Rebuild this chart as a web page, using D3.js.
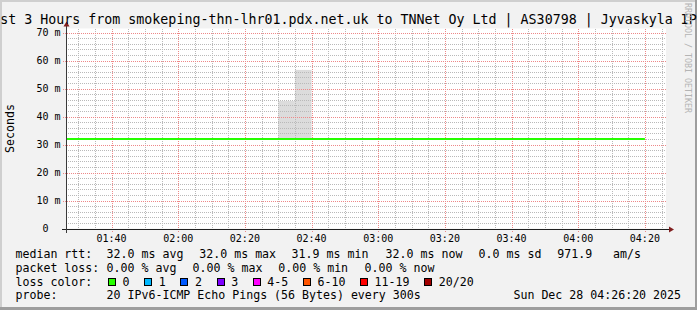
<!DOCTYPE html>
<html>
<head>
<meta charset="utf-8">
<script src="https://cdn.jsdelivr.net/npm/d3@7"></script>
<style>
  html, body { margin: 0; padding: 0; background: #f2f2f2; }
  svg { display: block; }
  text { font-family: "DejaVu Sans Mono", monospace; fill: #000; }
</style>
</head>
<body>
<div id="chart"></div>
<script>
// ---- data ----
const title = "Last 3 Hours from smokeping-thn-lhr01.pdx.net.uk to TNNet Oy Ltd | AS30798 | Jyvaskyla IPv6";
const day = "2025-12-28";
const rangeStart = "01:26:20";
const rangeEnd = "04:26:20";

// median rtt (ms), one value per 5 minute step, time = end of the step
const rttTimes = [
  "01:30", "01:35", "01:40", "01:45", "01:50", "01:55",
  "02:00", "02:05", "02:10", "02:15", "02:20", "02:25",
  "02:30", "02:35", "02:40", "02:45", "02:50", "02:55",
  "03:00", "03:05", "03:10", "03:15", "03:20", "03:25",
  "03:30", "03:35", "03:40", "03:45", "03:50", "03:55",
  "04:00", "04:05", "04:10", "04:15", "04:20"
];
const rttMedian = [
  32.0, 32.0, 32.0, 32.0, 32.0, 32.0,
  32.0, 32.0, 32.0, 32.0, 32.0, 32.0,
  32.0, 32.0, 32.0, 32.0, 32.0, 32.0,
  32.0, 32.0, 32.0, 32.0, 32.0, 32.0,
  32.0, 32.0, 32.0, 32.0, 32.0, 32.0,
  32.0, 32.0, 32.0, 32.0, 32.0
];

// smoke (spread of the pings) where it is visible
const smokeTimes = ["02:35", "02:40"];
const smokeLow = [32.0, 32.0];
const smokeHigh = [45.6, 56.7];

const yMax = 71.5;
const yMajor = [0, 10, 20, 30, 40, 50, 60, 70];

const rttStats = [32.0, 32.0, 31.9, 32.0, 0.0]; // avg, max, min, now, sd (ms)
const amPerS = 971.9;
const lossStats = [0.00, 0.00, 0.00, 0.00];      // avg, max, min, now (%)
const probeText = "20 IPv6-ICMP Echo Pings (56 Bytes) every 300s";
const stamp = "Sun Dec 28 04:26:20 2025";

const lossLabels = ["0", "1", "2", "3", "4-5", "6-10", "11-19", "20/20"];
const lossColors = ["#26ff00", "#00b8ff", "#0059ff", "#7e00ff", "#ff00ff", "#ff5500", "#ff0000", "#a10000"];

// ---- layout ----
const W = 697, H = 310;
const plot = { left: 66, right: 666, top: 28.5, bottom: 228.5 };
const parse = d3.timeParse("%Y-%m-%d %H:%M:%S");
const at = t => parse(`${day} ${t.length === 5 ? t + ":00" : t}`);
const step = 5; // minutes

const x = d3.scaleTime()
  .domain([at(rangeStart), at(rangeEnd)])
  .range([plot.left, plot.right]);
const y = d3.scaleLinear()
  .domain([0, yMax])
  .range([plot.bottom, plot.top]);

const svg = d3.select("#chart").append("svg")
  .attr("width", W)
  .attr("height", H);

// background + 3d frame
svg.append("rect").attr("width", W).attr("height", H).attr("fill", "#f2f2f2");
svg.append("rect").attr("x", 0).attr("y", 0).attr("width", W).attr("height", 2).attr("fill", "#cfcfcf");
svg.append("rect").attr("x", 0).attr("y", 0).attr("width", 2).attr("height", H).attr("fill", "#cfcfcf");
svg.append("rect").attr("x", W - 2).attr("y", 0).attr("width", 2).attr("height", H).attr("fill", "#9e9e9e");
svg.append("rect").attr("x", 0).attr("y", H - 3).attr("width", W).attr("height", 3).attr("fill", "#9e9e9e");

// canvas
svg.append("rect")
  .attr("x", plot.left).attr("y", plot.top)
  .attr("width", plot.right - plot.left).attr("height", plot.bottom - plot.top)
  .attr("fill", "#fff");

svg.append("clipPath").attr("id", "clip")
  .append("rect")
  .attr("x", plot.left).attr("y", plot.top)
  .attr("width", plot.right - plot.left).attr("height", plot.bottom - plot.top);

// smoke
svg.append("g").attr("clip-path", "url(#clip)")
  .selectAll("rect")
  .data(smokeTimes.map((t, i) => ({ end: at(t), lo: smokeLow[i], hi: smokeHigh[i] })))
  .join("rect")
  .attr("x", d => x(d3.timeMinute.offset(d.end, -step)))
  .attr("width", d => x(d.end) - x(d3.timeMinute.offset(d.end, -step)))
  .attr("y", d => y(d.hi))
  .attr("height", d => y(d.lo) - y(d.hi))
  .attr("fill", "#dcdcdc");

// grid
const px = v => Math.round(v) + 0.5;
const grid = svg.append("g").attr("shape-rendering", "crispEdges");
const minorCol = "#b9b9b9", majorCol = "#ee8888";

const minorY = d3.range(0, yMax, 2).filter(v => v % 10 !== 0);
grid.selectAll(".ym").data(minorY).join("line")
  .attr("x1", plot.left).attr("x2", plot.right)
  .attr("y1", d => px(y(d))).attr("y2", d => px(y(d)))
  .attr("stroke", minorCol).attr("stroke-dasharray", "1,1");

const minorX = d3.timeMinute.every(5).range(x.domain()[0], x.domain()[1])
  .filter(d => d.getMinutes() % 20 !== 0);
grid.selectAll(".xm").data(minorX).join("line")
  .attr("x1", d => px(x(d))).attr("x2", d => px(x(d)))
  .attr("y1", plot.top).attr("y2", plot.bottom)
  .attr("stroke", minorCol).attr("stroke-dasharray", "1,1");

grid.selectAll(".yM").data(yMajor.filter(v => v > 0)).join("line")
  .attr("x1", plot.left - 3).attr("x2", plot.right)
  .attr("y1", d => px(y(d))).attr("y2", d => px(y(d)))
  .attr("stroke", majorCol).attr("stroke-dasharray", "1,1");

const majorX = d3.timeMinute.every(20).range(x.domain()[0], x.domain()[1]);
grid.selectAll(".xM").data(majorX).join("line")
  .attr("x1", d => px(x(d))).attr("x2", d => px(x(d)))
  .attr("y1", plot.top).attr("y2", plot.bottom + 3)
  .attr("stroke", majorCol).attr("stroke-dasharray", "1,1");

// median rtt as a step line
const rtt = rttTimes.map((t, i) => ({ t: at(t), v: rttMedian[i] }));
const pts = [{ t: d3.timeMinute.offset(rtt[0].t, -step), v: rtt[0].v }, ...rtt];
svg.append("path")
  .attr("clip-path", "url(#clip)")
  .attr("d", d3.line().x(d => x(d.t)).y(d => y(d.v)).curve(d3.curveStepBefore)(pts))
  .attr("fill", "none")
  .attr("stroke", lossColors[0])
  .attr("stroke-width", 2);

// axes
svg.append("line")
  .attr("x1", plot.left - 4).attr("x2", plot.right + 4)
  .attr("y1", px(plot.bottom)).attr("y2", px(plot.bottom))
  .attr("stroke", "#1f1f1f").attr("shape-rendering", "crispEdges");
svg.append("line")
  .attr("x1", px(plot.left)).attr("x2", px(plot.left))
  .attr("y1", plot.bottom + 4).attr("y2", plot.top - 4)
  .attr("stroke", "#3a3a3a").attr("shape-rendering", "crispEdges");
svg.append("path")
  .attr("d", `M${px(plot.left) - 3},${plot.top - 2}L${px(plot.left)},${plot.top - 7}L${px(plot.left) + 3},${plot.top - 2}Z`)
  .attr("fill", "#801f1f");
svg.append("path")
  .attr("d", `M${plot.right + 3},${px(plot.bottom) - 3}L${plot.right + 8},${px(plot.bottom)}L${plot.right + 3},${px(plot.bottom) + 3}Z`)
  .attr("fill", "#801f1f");

// tick labels
svg.append("g").selectAll("text").data(yMajor).join("text")
  .attr("x", d => d === 0 ? 48.5 : 60.5)
  .attr("y", d => y(d) + 3.6)
  .attr("text-anchor", "end")
  .attr("font-size", 10)
  .text(d => d === 0 ? "0" : `${d} m`);

const fmt = d3.timeFormat("%H:%M");
svg.append("g").selectAll("text").data(majorX).join("text")
  .attr("x", d => x(d))
  .attr("y", 241.5)
  .attr("text-anchor", "middle")
  .attr("font-size", 10)
  .text(fmt);

// title, axis label, watermark
svg.append("text")
  .attr("x", W / 2).attr("y", 24)
  .attr("text-anchor", "middle")
  .attr("font-size", 13.3)
  .text(title);

svg.append("text")
  .attr("transform", `translate(14,${(plot.top + plot.bottom) / 2}) rotate(-90)`)
  .attr("text-anchor", "middle")
  .attr("font-size", 11.6)
  .text("Seconds");

svg.append("text")
  .attr("transform", "translate(685,3) rotate(90)")
  .attr("font-size", 8.3)
  .style("fill", "#b4b4b4")
  .text("RRDTOOL / TOBI OETIKER");

// legend
const f1 = v => v.toFixed(1), f2 = v => v.toFixed(2);
const legendRows = [
  { y: 258.3, items: [
    [15.5, "median rtt:"],
    [106.6, `${f1(rttStats[0])} ms avg`],
    [199.3, `${f1(rttStats[1])} ms max`],
    [291.6, `${f1(rttStats[2])} ms min`],
    [385.6, `${f1(rttStats[3])} ms now`],
    [478.6, `${f1(rttStats[4])} ms sd`],
    [557.3, `${f1(amPerS)}`],
    [613, "am/s"]
  ]},
  { y: 271.8, items: [
    [15.5, "packet loss:"],
    [106.6, `${f2(lossStats[0])} % avg`],
    [192.6, `${f2(lossStats[1])} % max`],
    [278.3, `${f2(lossStats[2])} % min`],
    [364.6, `${f2(lossStats[3])} % now`]
  ]},
  { y: 285.5, items: [[15.5, "loss color:"]] },
  { y: 299.2, items: [[15.5, "probe:"], [106.6, probeText]] }
];

const legend = svg.append("g").attr("font-size", 11.6);
legendRows.forEach(row => {
  legend.append("g").selectAll("text").data(row.items).join("text")
    .attr("x", d => d[0]).attr("y", row.y)
    .style("white-space", "pre")
    .text(d => d[1]);
});
legend.append("text")
  .attr("x", 681).attr("y", 299.2)
  .attr("text-anchor", "end")
  .text(stamp);

// loss colour swatches
let bx = 108;
lossLabels.forEach((lab, i) => {
  legend.append("rect")
    .attr("x", bx + 0.5).attr("y", 278.5)
    .attr("width", 7).attr("height", 7)
    .attr("fill", lossColors[i])
    .attr("stroke", "#000")
    .attr("shape-rendering", "crispEdges");
  const t = legend.append("text")
    .attr("x", bx + 14.6).attr("y", 285.5)
    .text(lab);
  bx = bx + 14.6 + t.node().getComputedTextLength() + 14.6;
});
</script>
</body>
</html>
